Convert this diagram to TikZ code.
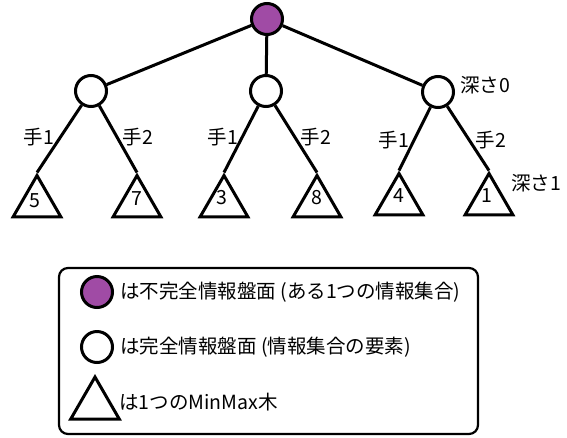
\documentclass[tikz,border=0pt]{standalone}
\usepackage{fontspec}
\setmainfont{Noto Sans CJK JP}
\usetikzlibrary{shapes.geometric}
\definecolor{imperf}{RGB}{160,75,165}
\tikzset{
  circ/.style={circle,draw,line width=3pt,minimum size=31pt,inner sep=0pt},
  tri/.style={regular polygon,regular polygon sides=3,draw,line width=3pt,minimum size=55pt,inner sep=0pt},
  edge/.style={line width=3pt},
  lbl/.style={font=\fontsize{19.5}{22}\selectfont,inner sep=0pt},
}
\begin{document}
\begin{tikzpicture}[x=1pt,y=-1pt]
\useasboundingbox (0,0) rectangle (567,437);
% tree
\node[circ,fill=imperf] (r) at (267,19) {};
\node[circ] (a) at (91,91) {};
\node[circ] (b) at (266,91) {};
\node[circ] (c) at (438,92) {};
\node[tri] (t1) at (37,203) {};
\node[tri] (t2) at (137,203) {};
\node[tri] (t3) at (224,203) {};
\node[tri] (t4) at (317,203) {};
\node[tri] (t5) at (399,201) {};
\node[tri] (t6) at (489,201) {};
\node[lbl] at (35,201) {5};
\node[lbl] at (137,199) {7};
\node[lbl] at (222,198) {3};
\node[lbl] at (317,198) {8};
\node[lbl] at (399,196) {4};
\node[lbl] at (487,196) {1};
\draw[edge] (r) -- (a);
\draw[edge] (r) -- (b);
\draw[edge] (r) -- (c);
\draw[edge] (a) -- (t1.corner 1);
\draw[edge] (a) -- (t2.corner 1);
\draw[edge] (b) -- (t3.corner 1);
\draw[edge] (b) -- (t4.corner 1);
\draw[edge] (c) -- (t5.corner 1);
\draw[edge] (c) -- (t6.corner 1);
\node[lbl] (l1) at (39,137) {手1};
\node[lbl] (l2) at (138,137) {手2};
\node[lbl] (l3) at (223,137) {手1};
\node[lbl] (l4) at (316,137) {手2};
\node[lbl] (l5) at (394,140) {手1};
\node[lbl] (l6) at (491,140) {手2};
\node[lbl] (d0) at (485,85) {深さ0};
\node[lbl] (d1) at (536,183) {深さ1};
% legend
\draw[line width=2.2pt,rounded corners=9pt] (59,268) rectangle (478,434);
\node[circ,fill=imperf] (k1) at (97,292) {};
\node[circ] (k2) at (97,347) {};
\node[tri,minimum size=56pt] (k3) at (95,405) {};
\node[lbl,anchor=west] at (120,292) {は不完全情報盤面 (ある1つの情報集合)};
\node[lbl,anchor=west] at (120,347) {は完全情報盤面 (情報集合の要素)};
\node[lbl,anchor=west] at (119,402) {は1つのMinMax木};
\end{tikzpicture}
\end{document}
